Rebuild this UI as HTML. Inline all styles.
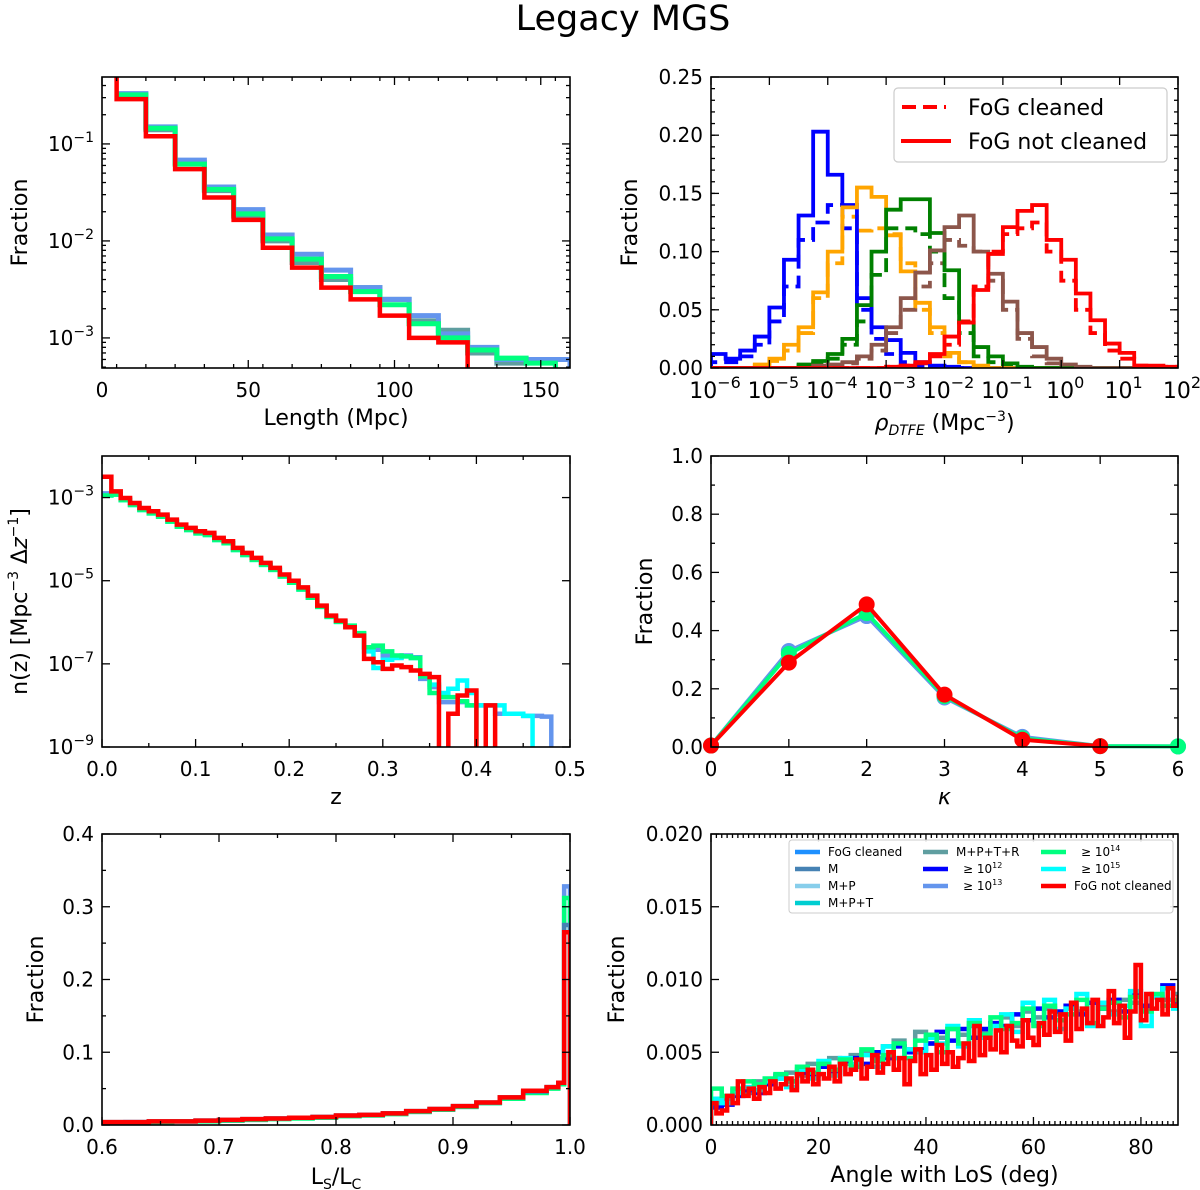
<!DOCTYPE html>
<html><head><meta charset="utf-8">
<style>
html,body{margin:0;padding:0;background:#fff;}
svg{display:block;font-family:"DejaVu Sans","Liberation Sans",sans-serif;}
</style></head>
<body>
<svg id="fig" width="1200" height="1190" viewBox="0 0 1200 1190" xmlns="http://www.w3.org/2000/svg">
<text x="623" y="30" font-size="35" text-anchor="middle">Legacy MGS</text>
</svg>
<script>
// ---------- Panel 1: length histogram ----------
const lenEdges = [5,15,25,35,45,55,65,75,85,95,105,115,125];
const lenRed = [0.29,0.12,0.055,0.028,0.0165,0.0085,0.0053,0.0033,0.0025,0.0017,0.001,0.0009];
const lenEdgesLong = [5,15,25,35,45,55,65,75,85,95,105,115,125,135,145,155];
const lenGreen = [0.32,0.145,0.062,0.034,0.019,0.0105,0.0065,0.0043,0.003,0.0022,0.0014,0.001,0.00075,0.00062,0.00055];
const lenEdgesLonger = [5,15,25,35,45,55,65,75,85,95,105,115,125,135,145,160];
const lenCorn = [0.33,0.15,0.068,0.036,0.021,0.0115,0.0073,0.005,0.0033,0.0025,0.0017,0.0011,0.0008,0.0006,0.0006];
const lenCadet = [0.31,0.14,0.064,0.033,0.018,0.01,0.006,0.004,0.0033,0.0025,0.0015,0.0012,0.0007,0.00055,0.0006];
const lenTicks = [0,50,100,150];
const logTicks1 = [-1,-2,-3];

// ---------- Panel 2: density histograms (bins of 0.25 dex from 1e-6) ----------
const rhoBinStart = -6;
const rhoBinWidth = 0.25;
const rhoBlueSolid  = [0.012,0.008,0.015,0.027,0.052,0.093,0.131,0.203,0.166,0.14,0.06,0.035,0.024,0.013,0.005,0.002,0.001,0,0,0,0,0,0,0,0,0,0,0,0,0,0,0];
const rhoBlueDash   = [0.005,0.005,0.01,0.02,0.04,0.07,0.11,0.125,0.14,0.12,0.05,0.025,0.012,0.005,0.002,0.001,0,0,0,0,0,0,0,0,0,0,0,0,0,0,0,0];
const rhoOrangeSolid= [0,0,0,0.003,0.008,0.02,0.035,0.065,0.1,0.138,0.155,0.147,0.114,0.083,0.056,0.035,0.013,0.005,0.002,0,0,0,0,0,0,0,0,0,0,0,0,0];
const rhoOrangeDash = [0,0,0,0.002,0.006,0.015,0.03,0.06,0.09,0.13,0.118,0.12,0.115,0.09,0.05,0.03,0.01,0.005,0.001,0,0,0,0,0,0,0,0,0,0,0,0,0];
const rhoGreenSolid = [0,0,0,0,0,0,0.003,0.006,0.012,0.025,0.054,0.1,0.136,0.145,0.145,0.116,0.084,0.039,0.018,0.01,0.004,0.001,0,0,0,0,0,0,0,0,0,0];
const rhoGreenDash  = [0,0,0,0,0,0,0.002,0.004,0.008,0.02,0.04,0.08,0.12,0.12,0.115,0.1,0.06,0.03,0.01,0.005,0.002,0,0,0,0,0,0,0,0,0,0,0];
const rhoBrownSolid = [0,0,0,0,0,0,0,0.002,0.003,0.005,0.01,0.02,0.035,0.06,0.082,0.101,0.121,0.131,0.1,0.081,0.057,0.03,0.018,0.008,0.003,0.001,0,0,0,0,0,0];
const rhoBrownDash  = [0,0,0,0,0,0,0,0.001,0.002,0.004,0.008,0.015,0.03,0.05,0.07,0.09,0.11,0.105,0.1,0.075,0.05,0.025,0.01,0.004,0.001,0,0,0,0,0,0,0];
const rhoRedSolid   = [0,0,0,0,0,0,0,0,0,0,0,0,0.001,0.002,0.005,0.012,0.027,0.039,0.067,0.098,0.121,0.135,0.14,0.11,0.093,0.064,0.041,0.021,0.013,0.002,0.002,0.001];
const rhoRedDash    = [0,0,0,0,0,0,0,0,0,0,0,0,0.001,0.002,0.004,0.01,0.02,0.04,0.07,0.1,0.115,0.12,0.125,0.1,0.075,0.05,0.03,0.015,0.008,0.002,0.001,0.001];
const rhoYTicks = [0,0.05,0.10,0.15,0.20,0.25];
const rhoYLabels = ["0.00","0.05","0.10","0.15","0.20","0.25"];
const rhoXTicks = [-6,-5,-4,-3,-2,-1,0,1,2];

// ---------- Panel 3: n(z) (log10 values, 0.01 bins; -10 = empty) ----------
const zBinWidth = 0.01;
const nzRedLog = [-2.5,-2.85,-3.01,-3.13,-3.25,-3.33,-3.41,-3.53,-3.65,-3.73,-3.81,-3.85,-3.97,-4.05,-4.21,-4.33,-4.45,-4.57,-4.69,-4.85,-5.0,-5.16,-5.36,-5.6,-5.84,-5.96,-6.12,-6.32,-6.88,-6.96,-7.12,-7.04,-7.08,-7.16,-7.24,-7.32,-10,-8.2,-7.76,-7.64,-10,-8.0];
const nzCornLog = [-2.9,-2.92,-3.05,-3.17,-3.29,-3.37,-3.45,-3.57,-3.69,-3.77,-3.85,-3.89,-4.01,-4.09,-4.25,-4.37,-4.49,-4.61,-4.73,-4.89,-5.04,-5.2,-5.4,-5.62,-5.86,-5.98,-6.1,-6.3,-6.6,-6.66,-6.8,-6.84,-6.8,-6.84,-7.36,-7.56,-7.92,-7.92,-7.92,-8.0,-8.0,-8.0,-8.2,-8.2,-8.2,-8.25,-8.25,-8.27];
const nzCyanLog = [-2.95,-2.93,-3.06,-3.18,-3.3,-3.38,-3.46,-3.58,-3.7,-3.78,-3.86,-3.9,-4.02,-4.1,-4.26,-4.38,-4.5,-4.62,-4.74,-4.9,-5.05,-5.21,-5.41,-5.63,-5.87,-5.99,-6.1,-6.28,-6.7,-7.1,-6.9,-6.86,-6.82,-6.86,-7.3,-7.5,-7.7,-7.6,-7.4,-7.7,-8.0,-8.0,-8.0,-8.2,-8.2,-8.25];
const nzGreenLog = [-2.95,-2.93,-3.06,-3.18,-3.3,-3.38,-3.46,-3.58,-3.7,-3.78,-3.86,-3.9,-4.02,-4.1,-4.26,-4.38,-4.5,-4.62,-4.74,-4.9,-5.05,-5.21,-5.41,-5.63,-5.87,-5.99,-6.08,-6.26,-6.6,-6.56,-6.7,-6.8,-6.82,-6.86,-7.3,-7.7,-7.8,-7.8,-7.9,-8.0];
const nzXTicks = [0,0.1,0.2,0.3,0.4,0.5];
const nzXLabels = ["0.0","0.1","0.2","0.3","0.4","0.5"];
const nzLogTicks = [-3,-5,-7,-9];

// ---------- Panel 4: kappa ----------
const kappaX = [0,1,2,3,4,5,6];
const kappaRed = [0.005,0.29,0.49,0.18,0.025,0.003];
const kappaBlue = [0.005,0.33,0.45,0.17,0.035,0.003,0.002];
const kappaGreen = [0.005,0.32,0.46,0.175,0.03,0.003,0.002];
const kappaYTicks = [0,0.2,0.4,0.6,0.8,1.0];
const kappaYLabels = ["0.0","0.2","0.4","0.6","0.8","1.0"];

// ---------- Panel 5: Ls/Lc ----------
const lsEdges = [0.6,0.62,0.64,0.66,0.68,0.70,0.72,0.74,0.76,0.78,0.80,0.82,0.84,0.86,0.88,0.90,0.92,0.94,0.96,0.98,0.99,0.995,1.0];
const lsRed   = [0.004,0.004,0.005,0.005,0.006,0.007,0.008,0.009,0.010,0.011,0.013,0.014,0.016,0.019,0.022,0.026,0.031,0.038,0.047,0.052,0.058,0.265];
const lsCorn  = [0.003,0.004,0.004,0.005,0.006,0.006,0.007,0.009,0.010,0.011,0.012,0.014,0.016,0.018,0.021,0.025,0.030,0.037,0.045,0.051,0.057,0.328];
const lsGreen = [0.003,0.003,0.004,0.005,0.005,0.006,0.007,0.008,0.009,0.010,0.012,0.013,0.015,0.018,0.021,0.025,0.030,0.036,0.044,0.050,0.056,0.312];
const lsSteel = [0.004,0.004,0.005,0.005,0.006,0.007,0.008,0.009,0.010,0.011,0.013,0.014,0.016,0.019,0.022,0.026,0.031,0.038,0.046,0.052,0.058,0.275];
const lsXTicks = [0.6,0.7,0.8,0.9,1.0];
const lsXLabels = ["0.6","0.7","0.8","0.9","1.0"];
const lsYTicks = [0,0.1,0.2,0.3,0.4];
const lsYLabels = ["0.0","0.1","0.2","0.3","0.4"];

// ---------- Panel 6: angle with LoS (values in units of 1e-3) ----------
const angRedMilli = [1.5,0.8,1.0,2.0,1.5,3.0,2.0,2.5,1.8,2.6, 2.2,3.0,2.5,2.8,3.2,2.4,3.5,3.0,3.8,2.8, 3.5,3.2,4.0,3.0,4.2,3.5,3.8,4.5,3.2,4.0, 4.8,3.6,4.2,5.0,3.8,4.6,2.8,4.4,5.2,3.5, 4.8,3.8,5.5,4.2,5.0,4.0,4.6,5.6,4.4,6.8, 4.8,6.0,5.2,6.5,5.0,6.8,5.8,5.4,7.2,6.0, 5.5,7.0,6.2,7.8,6.4,7.6,5.8,8.4,6.6,8.0, 7.0,8.6,6.8,7.4,9.2,7.0,8.2,6.0,7.8,11.0, 7.2,9.0,8.0,8.6,7.6,9.4,8.2,8.8];
const angGreenMilli = [2.5,2.0,2.5,3.0,2.8,3.2,3.5,3.0,4.0,3.6, 4.2,3.8,4.5,4.0,5.2,4.4,4.8,5.6,4.6,5.8, 6.2,5.0,6.6,5.6,7.0,6.2,7.4,6.6,7.0,8.0, 6.8,8.2,7.2,7.6,8.6,7.0,8.0,8.4,7.4,8.8, 7.8,9.0,8.2,8.6];
const angCyanMilli = [1.8,1.5,2.2,2.6,2.4,3.0,3.2,2.6,3.8,3.2, 4.4,3.4,4.6,4.2,4.8,4.0,5.4,4.6,5.2,5.0, 6.0,5.6,6.8,5.4,7.2,6.0,6.8,7.6,6.4,8.4, 7.0,8.6,6.6,8.0,9.0,6.8,8.4,7.6,8.2,9.2, 6.8,8.8,9.4,8.0];
const angBlueMilli = [1.2,1.4,2.0,2.4,2.2,2.8,3.4,3.0,3.6,3.4, 4.0,3.6,4.4,4.6,4.2,5.0,4.6,5.4,5.0,5.2, 5.6,6.4,5.8,6.6,6.0,6.6,7.0,6.8,7.6,7.2, 8.0,7.4,7.8,8.2,7.6,8.4,8.0,8.6,7.8,9.0, 8.2,8.8,9.6,8.4];
const angCadetMilli = [1.5,1.8,2.4,2.2,3.0,2.8,3.2,3.6,3.4,4.2, 4.0,4.6,4.2,4.8,5.0,4.6,5.4,5.8,5.2,6.4, 5.6,6.0,6.6,6.2,6.8,6.4,7.0,7.4,6.8,7.8, 7.4,8.0,7.6,8.2,7.8,8.4,8.2,7.8,8.6,8.4, 8.0,8.8,8.6,9.0];
const angXTicks = [0,20,40,60,80];
const angYTicksMilli = [0,5,10,15,20];
const angYLabels = ["0.000","0.005","0.010","0.015","0.020"];

// ================= drawing =================
const NS = "http://www.w3.org/2000/svg";
const svg = document.getElementById("fig");
const TF = 20;
function mk(tag, attrs, parent){
  const e = document.createElementNS(NS, tag);
  for (const k in attrs) e.setAttribute(k, attrs[k]);
  (parent||svg).appendChild(e);
  return e;
}
function txt(x,y,s,opts,parent){
  const e = mk("text",{x:x,y:y,"font-size":opts.size||TF,"text-anchor":opts.anchor||"middle"},parent);
  if (opts.rot) e.setAttribute("transform","rotate(-90 "+x+" "+y+")");
  e.textContent = s;
  return e;
}
function supLabel(x,y,base,exp,parent){
  const e = mk("text",{x:x,y:y,"font-size":TF,"text-anchor":"end"},parent);
  const t1 = document.createElementNS(NS,"tspan"); t1.textContent = base; e.appendChild(t1);
  const t2 = document.createElementNS(NS,"tspan"); t2.setAttribute("font-size","14"); t2.setAttribute("dy","-9"); t2.textContent = exp; e.appendChild(t2);
  
  
  return e;
}
function makePanel(name,x0,y0,w,h){
  const g = mk("g",{});
  
  
  const cid = "clip-"+name;
  const cp = mk("clipPath",{id:cid},g);
  mk("rect",{x:x0,y:y0,width:w,height:h},cp);
  const plot = mk("g",{"clip-path":"url(#"+cid+")"},g);
  
  
  return {g:g, plot:plot, x0:x0, y0:y0, w:w, h:h};
}
function frame(P){
  const r = mk("rect",{x:P.x0,y:P.y0,width:P.w,height:P.h,fill:"none",stroke:"#000","stroke-width":1.6},P.g);
  
  
}
function xTick(P,px,len){
  mk("line",{x1:px,x2:px,y1:P.y0+P.h,y2:P.y0+P.h-len,stroke:"#000","stroke-width":1.3},P.g);
  mk("line",{x1:px,x2:px,y1:P.y0,y2:P.y0+len,stroke:"#000","stroke-width":1.3},P.g);
}
function yTick(P,py,len){
  mk("line",{x1:P.x0,x2:P.x0+len,y1:py,y2:py,stroke:"#000","stroke-width":1.3},P.g);
  mk("line",{x1:P.x0+P.w,x2:P.x0+P.w-len,y1:py,y2:py,stroke:"#000","stroke-width":1.3},P.g);
}
function stepPath(edges, vals, sx, sy, baseY, startY){
  let d = "M"+sx(edges[0])+","+(startY===undefined?baseY:startY);
  for (let i=0;i<vals.length;i++){
    const y = sy(vals[i]);
    d += " L"+sx(edges[i])+","+y+" L"+sx(edges[i+1])+","+y;
  }
  d += " L"+sx(edges[vals.length])+","+baseY;
  return d;
}
function uniformEdges(start, width, n){
  const e=[]; for(let i=0;i<=n;i++) e.push(start+width*i); return e;
}
function drawPath(P,d,color,w,name,dash){
  const p = mk("path",{d:d,fill:"none",stroke:color,"stroke-width":w,"stroke-linejoin":"miter"},P.plot);
  if (dash) p.setAttribute("stroke-dasharray",dash);
  
  
  return p;
}

// ----- Panel 1 -----
(function(){
  const P = makePanel("length-panel",102,77,468,291);
  const sx = v => P.x0 + v/160*P.w;
  const yTop = -0.31, yBot = -3.31;
  const sy = v => { const l = v>0?Math.log10(v):-20; return P.y0 + (yTop-l)/(yTop-yBot)*P.h; };
  const base = P.y0+P.h+10;
  const top = P.y0-5;
  drawPath(P, stepPath(lenEdgesLonger,lenCadet,sx,sy,base,sy(lenCadet[0])), "#5f9ea0",5,"series-m-p-t-r");
  drawPath(P, stepPath(lenEdgesLonger,lenCorn,sx,sy,base,sy(lenCorn[0])), "#6495ed",5,"series-ge-1e13");
  drawPath(P, stepPath(lenEdgesLong,lenGreen,sx,sy,base,sy(lenGreen[0])), "#00ff7f",5,"series-ge-1e14");
  drawPath(P, stepPath(lenEdges,lenRed,sx,sy,base,top), "#ff0000",4.5,"series-fog-not-cleaned");
  frame(P);
  lenTicks.forEach(t=>{ xTick(P,sx(t),8);
    const e=txt(sx(t),P.y0+P.h+29,String(t),{},P.g);   });
  [5,15,25,35,45,55,65,75,85,95,105,115,125,135,145,155].forEach(t=>xTick(P,sx(t),4));
  logTicks1.forEach(t=>{ const py = P.y0+(yTop-t)/(yTop-yBot)*P.h; yTick(P,py,8); supLabel(P.x0-8,py+7,"10","−"+(-t),P.g); });
  for (let dec=-4; dec<0; dec++) for (let m=2;m<10;m++){ const l=dec+Math.log10(m); if(l<yTop&&l>yBot){ yTick(P,P.y0+(yTop-l)/(yTop-yBot)*P.h,4);} }
  let e=txt(P.x0+P.w/2,P.y0+P.h+57,"Length (Mpc)",{size:22},P.g);  
  e=txt(27,P.y0+P.h/2,"Fraction",{size:22,rot:true},P.g);  
})();

// ----- Panel 2 -----
(function(){
  const P = makePanel("density-panel",711,77,467,291);
  const sxL = L => P.x0 + (L+6)/8*P.w;
  const sy = v => P.y0+P.h - v/0.25*P.h;
  const base = P.y0+P.h;
  const edges = uniformEdges(rhoBinStart, rhoBinWidth, rhoBlueSolid.length);
  const series = [
    [rhoBlueDash,"#0000ff","blue-dashed",true],[rhoOrangeDash,"#ffa500","orange-dashed",true],[rhoGreenDash,"#008000","green-dashed",true],
    [rhoBrownDash,"#8c564b","brown-dashed",true],[rhoRedDash,"#ff0000","red-dashed",true],
    [rhoBlueSolid,"#0000ff","blue-solid",false],[rhoOrangeSolid,"#ffa500","orange-solid",false],[rhoGreenSolid,"#008000","green-solid",false],
    [rhoBrownSolid,"#8c564b","brown-solid",false],[rhoRedSolid,"#ff0000","red-solid",false]];
  series.forEach(s=>drawPath(P, stepPath(edges,s[0],sxL,sy,base+2), s[1], 3.8, "hist-"+s[2], s[3]?"14,7":null));
  frame(P);
  rhoXTicks.forEach(t=>{ xTick(P,sxL(t),8);
    const e = mk("text",{x:sxL(t)+4,y:P.y0+P.h+30,"font-size":22,"text-anchor":"middle"},P.g);
    const a=document.createElementNS(NS,"tspan"); a.textContent="10"; e.appendChild(a);
    const b=document.createElementNS(NS,"tspan"); b.setAttribute("font-size","16"); b.setAttribute("dy","-10"); b.textContent=(t<0?"−":"")+Math.abs(t); e.appendChild(b);
      });
  rhoYTicks.forEach((t,i)=>{ yTick(P,sy(t),8); const e=txt(P.x0-8,sy(t)+7,rhoYLabels[i],{anchor:"end"},P.g);   });
  for (let v=0.01; v<0.25; v+=0.01) yTick(P,sy(v),4);
  // legend
  const lg = mk("g",{},P.g);  
  mk("rect",{x:894,y:88,width:273,height:74,rx:4,fill:"#fff",stroke:"#ccc","stroke-width":1.2},lg);
  mk("line",{x1:902,x2:946,y1:107,y2:107,stroke:"#ff0000","stroke-width":4,"stroke-dasharray":"14,7"},lg);
  mk("line",{x1:901,x2:951,y1:141,y2:141,stroke:"#ff0000","stroke-width":4},lg);
  let e=txt(968,115,"FoG cleaned",{anchor:"start",size:22},lg);  
  e=txt(968,149,"FoG not cleaned",{anchor:"start",size:22},lg);  
  e = mk("text",{x:P.x0+P.w/2,y:P.y0+P.h+62,"font-size":22,"text-anchor":"middle"},P.g);
  e.innerHTML = '<tspan font-style="italic">ρ</tspan><tspan font-size="14" font-style="italic" dy="5">DTFE</tspan><tspan dy="-5"> (Mpc</tspan><tspan font-size="14" dy="-9">−3</tspan><tspan dy="9">)</tspan>';
   
  e=txt(637,P.y0+P.h/2,"Fraction",{size:22,rot:true},P.g);  
})();

// ----- Panel 3 -----
(function(){
  const P = makePanel("redshift-panel",102,456,468,291);
  const sx = z => P.x0 + z/0.5*P.w;
  const yTop=-2, yBot=-9;
  const sy = l => P.y0 + (yTop-l)/(yTop-yBot)*P.h;
  const base = P.y0+P.h+10;
  const s = [[nzCornLog,"#6495ed","series-ge-1e13"],[nzCyanLog,"#00ffff","series-ge-1e15"],[nzGreenLog,"#00ff7f","series-ge-1e14"],[nzRedLog,"#ff0000","series-fog-not-cleaned"]];
  s.forEach(a=>drawPath(P, stepPath(uniformEdges(0,zBinWidth,a[0].length),a[0],sx,sy,base,sy(a[0][0])), a[1], 4.5, a[2]));
  frame(P);
  nzXTicks.forEach((t,i)=>{ xTick(P,sx(t),8); const e=txt(sx(t),P.y0+P.h+29,nzXLabels[i],{},P.g);   });
  for (let i=1;i<10;i+=2) xTick(P,sx(i*0.05),4);
  nzLogTicks.forEach(t=>{ yTick(P,sy(t),8); supLabel(P.x0-8,sy(t)+7,"10","−"+(-t),P.g); });
  let e=txt(P.x0+P.w/2,P.y0+P.h+57,"z",{size:22},P.g);  
  e = mk("text",{x:27,y:P.y0+P.h/2,"font-size":22,"text-anchor":"middle",transform:"rotate(-90 27 "+(P.y0+P.h/2)+")"},P.g);
  e.innerHTML = 'n(z) [Mpc<tspan font-size="14" dy="-9">−3</tspan><tspan dy="9"> Δ</tspan><tspan font-style="italic">z</tspan><tspan font-size="14" dy="-9">−1</tspan><tspan dy="9">]</tspan>';
   
})();

// ----- Panel 4 -----
(function(){
  const P = makePanel("kappa-panel",711,456,467,291);
  const sx = k => P.x0 + k/6*P.w;
  const sy = v => P.y0+P.h - v*P.h;
  const s = [[kappaBlue,"#6495ed","series-ge-1e13"],[kappaGreen,"#00ff7f","series-ge-1e14"],[kappaRed,"#ff0000","series-fog-not-cleaned"]];
  const top = mk("g",{},P.g);
  s.forEach(a=>{
    let d=""; a[0].forEach((v,i)=>{ d+=(i?" L":"M")+sx(kappaX[i])+","+sy(v); });
    const p=mk("path",{d:d,fill:"none",stroke:a[1],"stroke-width":4},top);
     
    a[0].forEach((v,i)=>{ const c=mk("circle",{cx:sx(kappaX[i]),cy:sy(v),r:8,fill:a[1]},top);
        });
  });
  frame(P);
  kappaX.forEach(t=>{ xTick(P,sx(t),8); const e=txt(sx(t),P.y0+P.h+29,String(t),{},P.g);   });
  kappaYTicks.forEach((t,i)=>{ yTick(P,sy(t),8); const e=txt(P.x0-8,sy(t)+7,kappaYLabels[i],{anchor:"end"},P.g);   });
  for (let i=1;i<10;i+=2) yTick(P,sy(i*0.1),4);
  let e=txt(P.x0+P.w/2,P.y0+P.h+57,"κ",{size:22},P.g); e.setAttribute("font-style","italic");  
  e=txt(652,P.y0+P.h/2,"Fraction",{size:22,rot:true},P.g);  
})();

// ----- Panel 5 -----
(function(){
  const P = makePanel("ls-lc-panel",102,834,468,291);
  const sx = v => P.x0 + (v-0.6)/0.4*P.w;
  const sy = v => P.y0+P.h - v/0.4*P.h;
  const base = P.y0+P.h+5;
  [[lsCorn,"#6495ed","series-ge-1e13"],[lsGreen,"#00ff7f","series-ge-1e14"],[lsSteel,"#4682b4","series-m"],[lsRed,"#ff0000","series-fog-not-cleaned"]]
    .forEach(a=>drawPath(P, stepPath(lsEdges,a[0],sx,sy,base), a[1], 4.5, a[2]));
  frame(P);
  lsXTicks.forEach((t,i)=>{ xTick(P,sx(t),8); const e=txt(sx(t),P.y0+P.h+29,lsXLabels[i],{},P.g);   });
  for (let i=0;i<4;i++) xTick(P,sx(0.65+0.1*i),4);
  lsYTicks.forEach((t,i)=>{ yTick(P,sy(t),8); const e=txt(P.x0-8,sy(t)+7,lsYLabels[i],{anchor:"end"},P.g);   });
  for (let i=0;i<4;i++) yTick(P,sy(0.05+0.1*i),4);
  let e = mk("text",{x:P.x0+P.w/2,y:P.y0+P.h+59,"font-size":22,"text-anchor":"middle"},P.g);
  e.innerHTML = 'L<tspan font-size="14" dy="5">S</tspan><tspan dy="-5">/L</tspan><tspan font-size="14" dy="5">C</tspan>';
   
  e=txt(43,P.y0+P.h/2,"Fraction",{size:22,rot:true},P.g);  
})();

// ----- Panel 6 -----
(function(){
  const P = makePanel("angle-panel",711,834,467,291);
  const xMax = 86.9;
  const sx = a => P.x0 + a/xMax*P.w;
  const sy = v => P.y0+P.h - v/20*P.h;
  const base = P.y0+P.h+5;
  const e2 = uniformEdges(0,2,44);
  [[angCadetMilli,"#5f9ea0","series-m-p-t-r"],[angBlueMilli,"#0000ff","series-ge-1e12"],[angCyanMilli,"#00ffff","series-ge-1e15"],[angGreenMilli,"#00ff7f","series-ge-1e14"]]
    .forEach(a=>drawPath(P, stepPath(e2,a[0],sx,sy,base), a[1], 4.5, a[2]));
  drawPath(P, stepPath(uniformEdges(0,1,angRedMilli.length),angRedMilli,sx,sy,base), "#ff0000", 4.5, "series-fog-not-cleaned");
  frame(P);
  angXTicks.forEach(t=>{ xTick(P,sx(t),8); const e=txt(sx(t),P.y0+P.h+29,String(t),{},P.g);   });
  for (let a=1;a<87;a++) if (a%20) xTick(P,sx(a),4);
  angYTicksMilli.forEach((t,i)=>{ yTick(P,sy(t),8); const e=txt(P.x0-8,sy(t)+7,angYLabels[i],{anchor:"end"},P.g);   });
  // legend
  const lg = mk("g",{},P.g);  
  mk("rect",{x:789,y:840,width:384,height:73,rx:3,fill:"#fff","fill-opacity":0.9,stroke:"#ccc","stroke-width":1},lg);
  const entries = [
    [793,852,"#1e90ff","FoG cleaned",""],[793,869,"#4682b4","M",""],[793,886,"#87ceeb","M+P",""],[793,903,"#00ced1","M+P+T",""],
    [921,852,"#5f9ea0","M+P+T+R",""],[921,869,"#0000ff","≥ 10","12"],[921,886,"#6495ed","≥ 10","13"],
    [1039,852,"#00ff7f","≥ 10","14"],[1039,869,"#00ffff","≥ 10","15"],[1039,886,"#ff0000","FoG not cleaned",""]];
  entries.forEach(en=>{
    mk("line",{x1:en[0]+2,x2:en[0]+27,y1:en[1],y2:en[1],stroke:en[2],"stroke-width":4.5},lg);
    const t = mk("text",{x:en[0]+(en[4]?42:35),y:en[1]+4,"font-size":12,"text-anchor":"start"},lg);
    const a=document.createElementNS(NS,"tspan"); a.textContent=en[3]; t.appendChild(a);
    if (en[4]){ const b=document.createElementNS(NS,"tspan"); b.setAttribute("font-size","8"); b.setAttribute("dy","-5"); b.textContent=en[4]; t.appendChild(b); }
     
  });
  let e=txt(P.x0+P.w/2,P.y0+P.h+57,"Angle with LoS (deg)",{size:22},P.g);  
  e=txt(624,P.y0+P.h/2,"Fraction",{size:22,rot:true},P.g);  
})();
</script>
</body></html>
